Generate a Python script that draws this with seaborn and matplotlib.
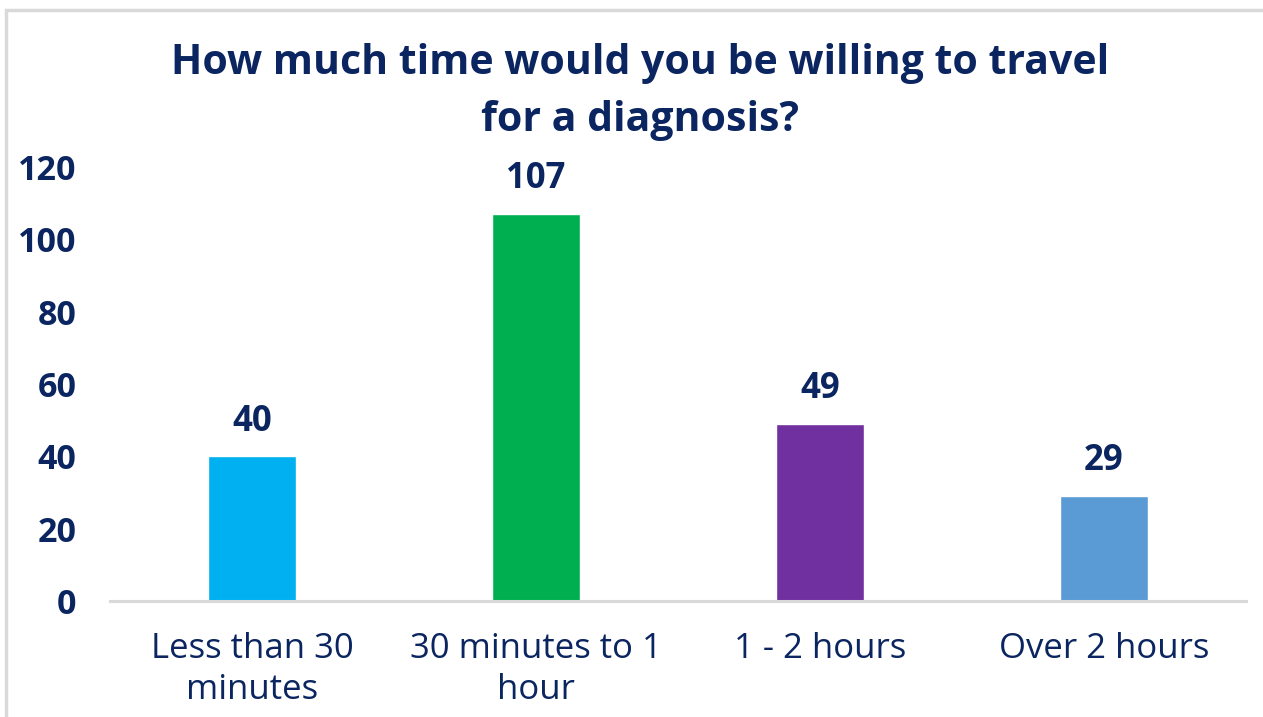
import matplotlib
matplotlib.use("Agg")
import matplotlib.pyplot as plt
import seaborn as sns
import pandas as pd
from matplotlib.patches import Rectangle

categories = ["Less than 30\nminutes", "30 minutes to 1\nhour", "1 - 2 hours", "Over 2 hours"]
counts = [40, 107, 49, 29]
bar_colors = ["#00B0F0", "#00B050", "#7030A0", "#5B9BD5"]
y_ticks = [0, 20, 40, 60, 80, 100, 120]
title = "How much time would you be willing to travel\nfor a diagnosis?"

navy = "#0B2560"

sns.set_theme(style="white")
plt.rcParams["font.family"] = ["Open Sans", "DejaVu Sans"]

W, H = 1263, 717
fig = plt.figure(figsize=(W / 100, H / 100), dpi=100)
ax = fig.add_axes([110 / W, 1 - 601 / H, (1246 - 110) / W, (601 - 167) / H])

df = pd.DataFrame({"category": categories, "count": counts})
sns.barplot(data=df, x="category", y="count", hue="category",
            palette=bar_colors, width=0.313, legend=False, ax=ax,
            saturation=1)

ax.set_ylim(0, 120)
ax.set_xlim(-0.5, len(categories) - 0.5)
ax.set_yticks(y_ticks)
ax.set_yticklabels([str(v) for v in y_ticks], fontsize=24.5, fontweight="bold", color=navy)
ax.tick_params(axis="y", length=0, pad=24)
ax.tick_params(axis="x", length=0, pad=22, labelsize=25, labelcolor=navy)
for lbl in ax.get_xticklabels():
    lbl.set_linespacing(1.3)
ax.set_xlabel("")
ax.set_ylabel("")

for s in ["top", "right", "left"]:
    ax.spines[s].set_visible(False)
ax.spines["bottom"].set_color("#D9D9D9")
ax.spines["bottom"].set_linewidth(2.2)

for container in ax.containers:
    ax.bar_label(container, fmt="%d", padding=12, fontsize=25,
                 fontweight="bold", color=navy)

fig.text(640 / W, 1 - 92 / H, title, ha="center", va="center",
         fontsize=29.5, fontweight="bold", color=navy, linespacing=1.5)

# light grey frame around the chart area
fig.patches.append(Rectangle((6 / W, -0.05), 1.2, 1 - 10 / H + 0.05,
                             transform=fig.transFigure, fill=False,
                             edgecolor="#D9D9D9", linewidth=2.5))

fig.savefig("out.png", dpi=100, facecolor="white")
